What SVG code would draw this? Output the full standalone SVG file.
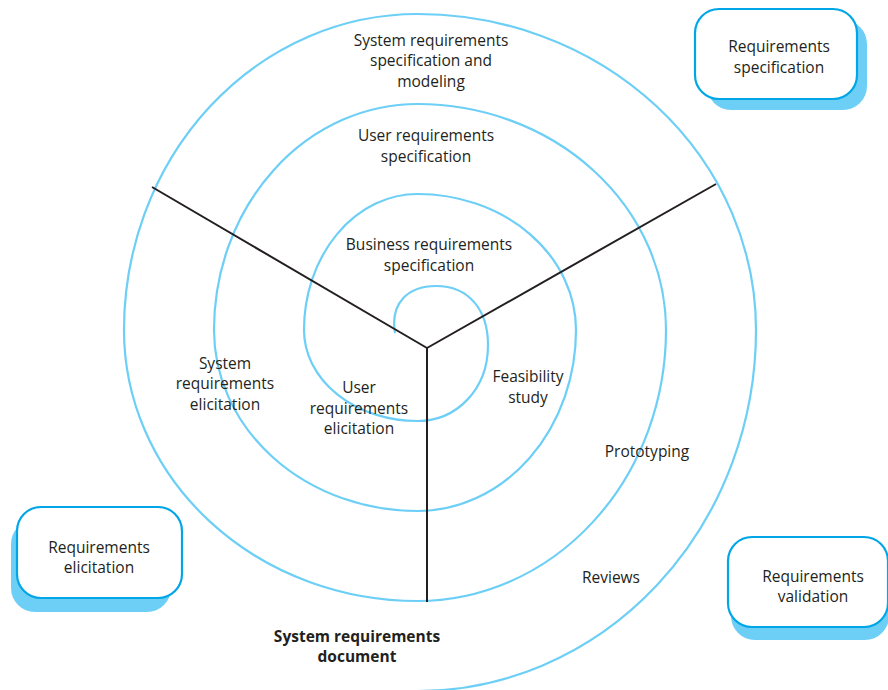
<svg xmlns="http://www.w3.org/2000/svg" width="888" height="690" viewBox="0 0 888 690">
<style>
.spiral{fill:none;stroke:#6dcff6;stroke-width:2.2}
.axis{fill:none;stroke:#231f20;stroke-width:2}
.box{fill:#fff;stroke:#00a6e6;stroke-width:2.2}
.shadow{fill:#6dcff6;stroke:none}
text{font-family:"Open Sans","Noto Sans","Liberation Sans",sans-serif;font-size:15.5px;fill:#231f20;text-anchor:middle}
.bold{font-weight:bold}
</style>
<rect width="888" height="690" fill="#fff"/>
<g id="connectors">
<path id="spiral" class="spiral" d="M395 333 C390 303 408 286 436 286 C469 286 488 310 488 345 C488 390 456 421 417.5 421 A113.5 91 0 0 1 304 330 A113.5 136 0 0 1 417.5 194 A158.5 136 0 0 1 576 330 A158.5 181 0 0 1 417.5 511 A203.5 181 0 0 1 214 330 A203.5 226 0 0 1 417.5 104 A248.5 226 0 0 1 666 330 A248.5 271 0 0 1 417.5 601 A293.5 271 0 0 1 124 330 A293.5 316 0 0 1 417.5 14 A338.5 316 0 0 1 756 330 A338.5 361 0 0 1 417.5 691"/>
<line class="axis" x1="427" y1="348" x2="152" y2="187"/>
<line class="axis" x1="427" y1="348" x2="716" y2="184"/>
<line class="axis" x1="427" y1="348" x2="427" y2="602"/>
</g>
<g id="labels">
<text x="431" y="46">System requirements</text>
<text x="431" y="66">specification and</text>
<text x="431" y="87">modeling</text>
<text x="426" y="141">User requirements</text>
<text x="426" y="162">specification</text>
<text x="429" y="250">Business requirements</text>
<text x="429" y="271">specification</text>
<text x="225" y="369">System</text>
<text x="225" y="389">requirements</text>
<text x="225" y="410">elicitation</text>
<text x="359" y="393">User</text>
<text x="359" y="414">requirements</text>
<text x="359" y="434">elicitation</text>
<text x="528" y="382">Feasibility</text>
<text x="528" y="403">study</text>
<text x="647" y="457">Prototyping</text>
<text x="611" y="583">Reviews</text>
<text class="bold" x="357" y="642">System requirements</text>
<text class="bold" x="357" y="662">document</text>
</g>
<g id="req-specification">
<rect class="shadow" x="707" y="20" width="160" height="90" rx="24"/>
<rect class="box" x="695" y="9" width="162" height="90" rx="24"/>
<text x="779" y="52">Requirements</text>
<text x="779" y="73">specification</text>
</g>
<g id="req-elicitation">
<rect class="shadow" x="11" y="520" width="160" height="92" rx="24"/>
<rect class="box" x="17" y="507" width="165" height="91" rx="24"/>
<text x="99" y="553">Requirements</text>
<text x="99" y="573">elicitation</text>
</g>
<g id="req-validation">
<rect class="shadow" x="731" y="549" width="158" height="91" rx="24"/>
<rect class="box" x="728" y="537" width="160" height="90" rx="24"/>
<text x="813" y="582">Requirements</text>
<text x="813" y="602">validation</text>
</g>
</svg>
